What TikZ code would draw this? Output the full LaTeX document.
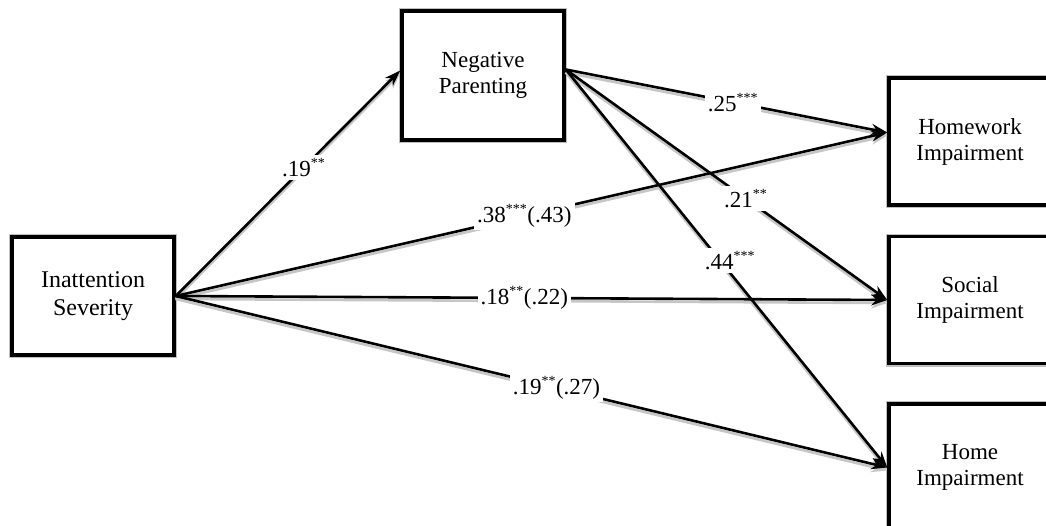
\documentclass[tikz,border=0pt]{standalone}
\usepackage{fontspec}
\setmainfont{Liberation Serif}
\usetikzlibrary{arrows.meta,positioning}
\newcommand{\sig}[1]{\textsuperscript{\fontsize{14}{14}\selectfont #1}}

\begin{document}
\begin{tikzpicture}[x=1pt, y=-1pt, node distance = 28pt,
                    >={Stealth[length=16pt,width=11pt]},
                    box/.style = {draw, line width=3.5pt, fill=white,
                      preaction={draw=gray!50, line width=6pt},
                      minimum width=162pt, align=center,
                      font=\fontsize{23}{26}\selectfont},
                    link/.style = {->, line width=2.6pt},
                    shadowlink/.style = {->, line width=2.6pt, draw=gray!45},
                    coef/.style = {fill=white, inner sep=3pt,
                      font=\fontsize{23}{26}\selectfont}]
\useasboundingbox (0,0) rectangle (1046,525);
\node[box, minimum height=118pt, font=\fontsize{24}{28}\selectfont] (sev) at (93,296) {Inattention\\Severity};
\node[box, minimum height=129pt] (neg) at (483,75.5) {Negative\\Parenting};
\node[box, minimum height=127pt] (hw) at (970,141.5) {Homework\\Impairment};
\node[box, minimum height=127pt, below= of hw] (soc) {Social\\Impairment};
\node[box, minimum height=127pt, below= 37pt of soc] (home) {Home\\Impairment};
\coordinate (negin) at ([yshift=5pt]neg.west);
\coordinate (negout) at ([yshift=6pt]neg.east);
\coordinate (hwin) at ([yshift=9pt]hw.west);
% grey shadow under each path
\begin{scope}[transform canvas={yshift=-3pt}]
  \foreach \a/\b in {sev.east/negin, sev.east/hwin, sev.east/soc.west, sev.east/home.west,
                     negout/hwin, negout/soc.west, negout/home.west}
    \draw[shadowlink] (\a) -- (\b);
\end{scope}
    \path[every node/.style={coef}]
(sev.east) edge[link] node[pos=0.57] {.19\sig{**}} (negin)
(sev.east) edge[link] node[pos=0.49] {.38\sig{***}(.43)} (hwin)
(sev.east) edge[link] node[pos=0.49] {.18\sig{**}(.22)} (soc.west)
(sev.east) edge[link] node[pos=0.535] {.19\sig{**}(.27)} (home.west)
(negout) edge[link] node[pos=0.52] {.25\sig{***}} (hwin)
(negout) edge[link] node[pos=0.56] {.21\sig{**}} (soc.west)
(negout) edge[link] node[pos=0.48, xshift=10pt] {.44\sig{***}} (home.west);
\end{tikzpicture}
\end{document}
